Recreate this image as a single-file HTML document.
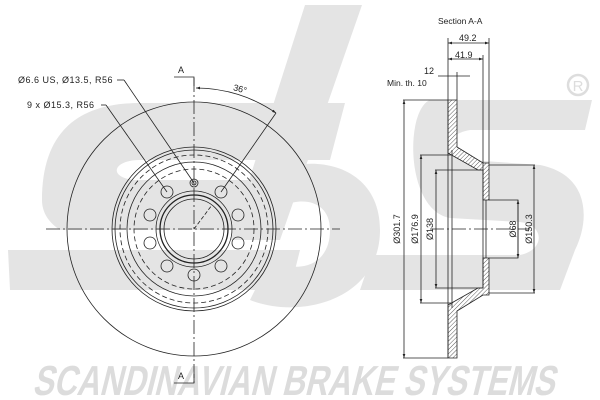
<!DOCTYPE html>
<html><head><meta charset="utf-8"><style>
html,body{margin:0;padding:0;background:#fff;}
svg{display:block;}
text{font-family:"Liberation Sans",sans-serif;}
</style></head><body>
<svg width="600" height="400" viewBox="0 0 600 400" xmlns="http://www.w3.org/2000/svg">
<defs>
<pattern id="h" width="3" height="3" patternUnits="userSpaceOnUse" patternTransform="rotate(45)">
<rect width="3" height="3" fill="#fff"/><line x1="0" y1="0" x2="0" y2="3" stroke="#333" stroke-width="0.8"/>
</pattern>
<marker id="a" viewBox="0 0 6 6" refX="6" refY="3" markerWidth="5" markerHeight="5" orient="auto-start-reverse"><path d="M0,1 L6,3 L0,5Z" fill="#222"/></marker>
</defs>
<g fill="#e4e4e4">
<path d="M42,200 C42,130 80,103 140,103 L345,103 L330,160 L140,160 C112,160 108,178 135,180 L250,180 L235,230 L60,230 C48,222 42,212 42,200Z"/>
<path d="M8,250 L300,250 L290,290 L10,290Z"/>
<path d="M305,5 L362,5 L280,240 L230,240Z"/>
<path d="M250,190 C280,150 380,150 380,230 C380,300 300,320 250,300 L270,260 C300,275 330,265 330,230 C330,195 290,195 270,215Z"/>
<path d="M430,100 L592,100 L585,130 L470,130 C440,135 445,160 470,160 L540,165 C590,175 590,220 575,250 L560,290 L360,290 L372,255 L520,255 C545,250 545,225 520,222 L450,218 C405,210 405,110 430,100Z"/>
</g>
<circle cx="578" cy="85" r="10" fill="none" stroke="#ddd" stroke-width="2.5"/>
<text x="578" y="91" font-size="15" fill="#ddd" text-anchor="middle">R</text>
<g transform="translate(0 395) skewX(-14)">
<text x="32" y="0" font-size="42" font-weight="bold" fill="#dcdcdc" textLength="522" lengthAdjust="spacingAndGlyphs">SCANDINAVIAN BRAKE SYSTEMS</text>
</g>

<g stroke="#222" fill="none" stroke-width="0.8">
<circle cx="194" cy="229" r="127"/>
<circle cx="194" cy="229" r="82"/>
<circle cx="194" cy="229" r="79"/>
<circle cx="194" cy="229" r="74" stroke-dasharray="5,3"/>
<circle cx="194" cy="229" r="67"/>
<circle cx="194" cy="229" r="60" stroke-dasharray="5,3"/>
<circle cx="194" cy="229" r="38"/>
<circle cx="194" cy="229" r="34" stroke-width="1.3"/>
<circle cx="194" cy="229" r="30"/>
<g>
<circle cx="194" cy="183" r="4"/><circle cx="194" cy="183" r="2"/>
<circle cx="221" cy="192" r="6"/>
<circle cx="238" cy="215" r="6"/>
<circle cx="238" cy="243" r="6"/>
<circle cx="221" cy="266" r="6"/>
<circle cx="194" cy="275" r="6"/>
<circle cx="167" cy="266" r="6"/>
<circle cx="150" cy="243" r="6"/>
<circle cx="150" cy="215" r="6"/>
<circle cx="167" cy="192" r="6"/>
</g>
<line x1="46" y1="229" x2="340" y2="229" stroke-dasharray="14,3,2,3"/>
<line x1="194" y1="78" x2="194" y2="385" stroke-dasharray="14,3,2,3"/>
<line x1="194" y1="229" x2="212" y2="205" stroke-dasharray="4,2"/>
<polyline points="174,77 194,77 194,86"/>
<polyline points="174,383 194,383 194,374"/>
<path d="M196,88 A141,141 0 0 1 276,113" marker-start="url(#a)" marker-end="url(#a)"/>
<line x1="276" y1="113" x2="221" y2="192"/>
<line x1="117" y1="80" x2="124" y2="80"/><line x1="124" y1="80" x2="194" y2="183"/>
<line x1="101" y1="105" x2="106" y2="105"/><line x1="106" y1="105" x2="167" y2="192"/>
</g>
<g fill="#222" font-size="9">
<text x="178" y="73">A</text>
<text x="178" y="379">A</text>
<text x="233" y="92" transform="rotate(15 240 90)">36°</text>
<text x="18" y="83" letter-spacing="0.5">Ø6.6 US, Ø13.5, R56</text>
<text x="27" y="108" letter-spacing="0.5">9 x Ø15.3, R56</text>
<text x="438" y="24" font-size="8.5">Section A-A</text>
<text x="459" y="41">49.2</text>
<text x="455" y="58">41.9</text>
<text x="424" y="74">12</text>
<text x="387" y="86" font-size="8.5">Min. th. 10</text>
<text transform="translate(400 229) rotate(-90)" text-anchor="middle">Ø301.7</text>
<text transform="translate(418 229) rotate(-90)" text-anchor="middle">Ø176.9</text>
<text transform="translate(433 229) rotate(-90)" text-anchor="middle">Ø138</text>
<text transform="translate(516 229) rotate(-90)" text-anchor="middle">Ø68</text>
<text transform="translate(532 229) rotate(-90)" text-anchor="middle">Ø150.3</text>
</g>
<g stroke="#222" stroke-width="0.8">
<path fill="url(#h)" d="M448,100 L457,100 L457,147 L483,163 L489,163 L489,200 L483,200 L483,170 L478,170 L448,153Z"/>
<path fill="url(#h)" d="M448,358 L457,358 L457,311 L483,295 L489,295 L489,258 L483,258 L483,288 L478,288 L448,305Z"/>
<g fill="none">
<line x1="448" y1="100" x2="448" y2="358"/>
<line x1="452" y1="150" x2="452" y2="308"/>
<line x1="483" y1="170" x2="483" y2="288"/>
<line x1="486" y1="200" x2="486" y2="258"/>
<polyline points="489,200 518,200 518,258 489,258"/>
<line x1="448" y1="38" x2="448" y2="100"/>
<line x1="489" y1="38" x2="489" y2="163"/>
<line x1="483" y1="55" x2="483" y2="170"/>
<line x1="457" y1="72" x2="457" y2="100"/>
<line x1="448" y1="43" x2="489" y2="43" marker-start="url(#a)" marker-end="url(#a)"/>
<line x1="448" y1="59" x2="483" y2="59" marker-start="url(#a)" marker-end="url(#a)"/>
<line x1="438" y1="76" x2="470" y2="76"/>
<line x1="403" y1="100" x2="448" y2="100"/><line x1="403" y1="358" x2="448" y2="358"/>
<line x1="404" y1="100" x2="404" y2="358" marker-start="url(#a)" marker-end="url(#a)"/>
<line x1="420" y1="155" x2="452" y2="155"/><line x1="420" y1="303" x2="452" y2="303"/>
<line x1="421" y1="155" x2="421" y2="303" marker-start="url(#a)" marker-end="url(#a)"/>
<line x1="435" y1="170" x2="483" y2="170"/><line x1="435" y1="288" x2="483" y2="288"/>
<line x1="436" y1="170" x2="436" y2="288" marker-start="url(#a)" marker-end="url(#a)"/>
<line x1="489" y1="165" x2="535" y2="165"/><line x1="489" y1="293" x2="535" y2="293"/>
<line x1="534" y1="165" x2="534" y2="293" marker-start="url(#a)" marker-end="url(#a)"/>
<line x1="518" y1="200" x2="518" y2="258" marker-start="url(#a)" marker-end="url(#a)"/>
<line x1="430" y1="229" x2="530" y2="229" stroke-dasharray="14,3,2,3"/>
</g>
</g>
</svg>
</body></html>
